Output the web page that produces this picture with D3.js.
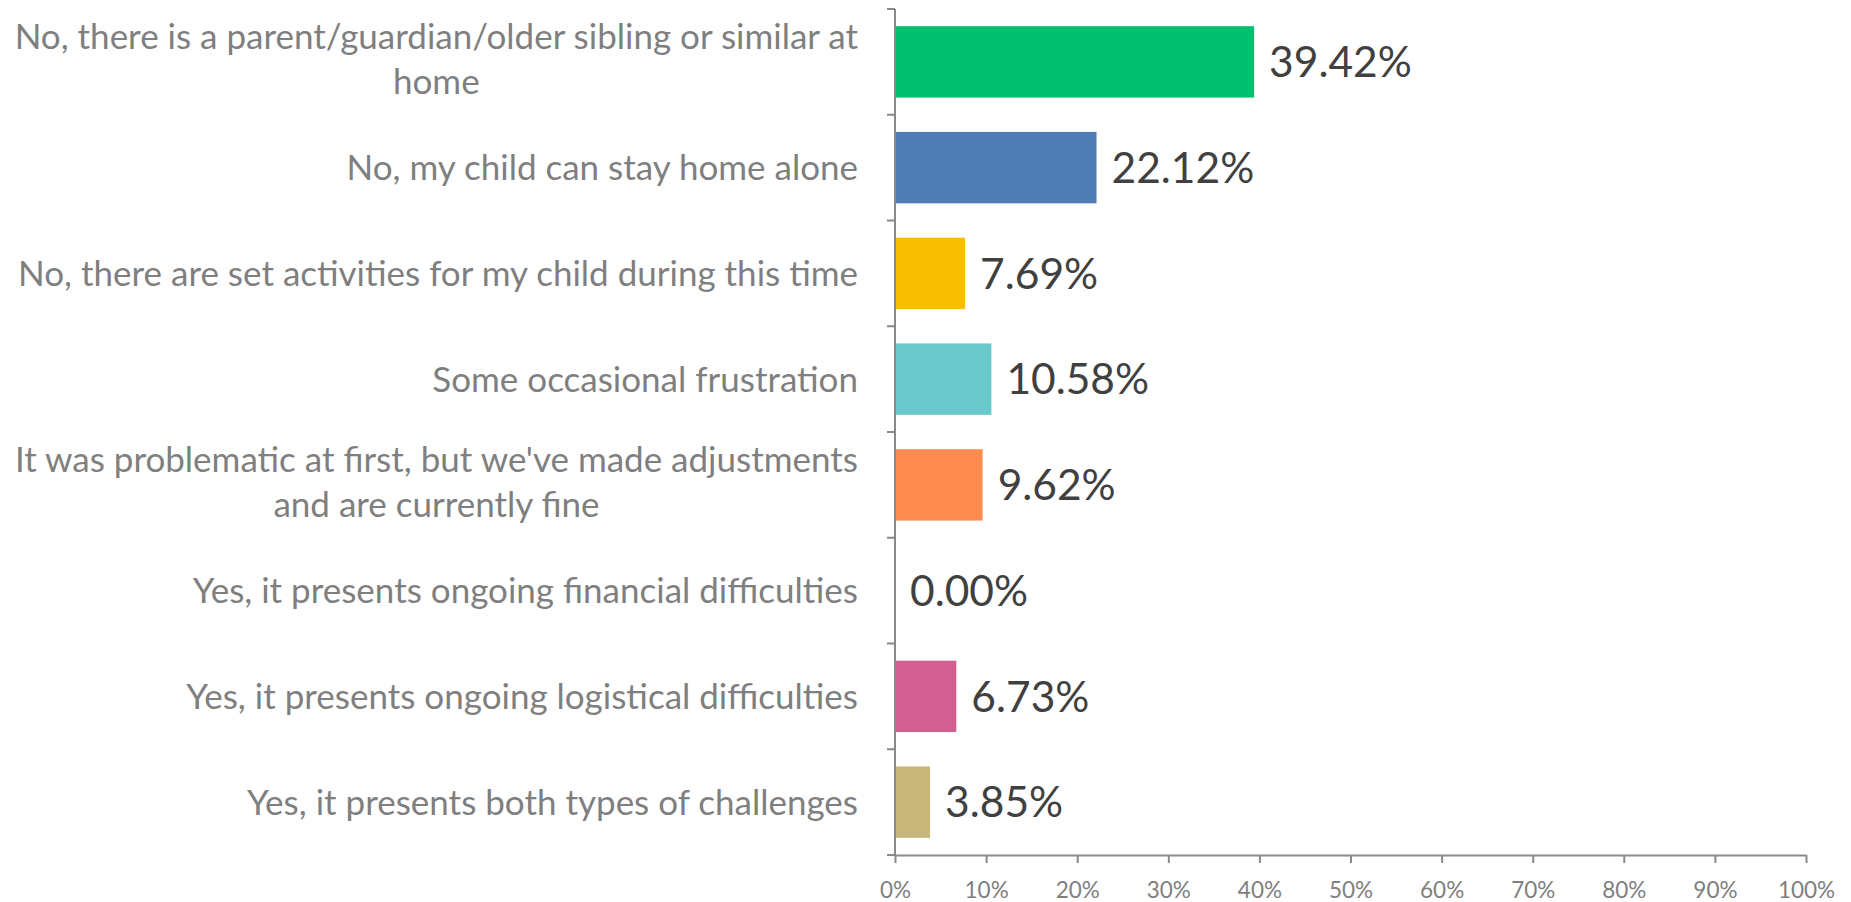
<!DOCTYPE html>
<html>
<head>
<meta charset="utf-8">
<script src="https://cdn.jsdelivr.net/npm/d3@7"></script>
<style>
  html, body { margin: 0; padding: 0; background: #fff; }
  svg { display: block; }
</style>
</head>
<body>
<svg id="chart" width="1851" height="902"></svg>
<script>
const categories = [
  ["No, there is a parent/guardian/older sibling or similar at", "home"],
  ["No, my child can stay home alone"],
  ["No, there are set activities for my child during this time"],
  ["Some occasional frustration"],
  ["It was problematic at first, but we've made adjustments", "and are currently fine"],
  ["Yes, it presents ongoing financial difficulties"],
  ["Yes, it presents ongoing logistical difficulties"],
  ["Yes, it presents both types of challenges"]
];
const values = [39.42, 22.12, 7.69, 10.58, 9.62, 0.00, 6.73, 3.85];
const colors = ["#00BF6F", "#507CB6", "#F9BE00", "#6BC8CD", "#FF8B4F", "#D25F90", "#D25F90", "#C7B879"];
const tickValues = [0, 10, 20, 30, 40, 50, 60, 70, 80, 90, 100];

const svg = d3.select("#chart");
const margin = { left: 895, right: 45, top: 9, bottom: 47 };
const W = 1851, H = 902;

const x = d3.scaleLinear().domain([0, 100]).range([margin.left, W - margin.right]);
const y = d3.scaleBand().domain(d3.range(categories.length))
  .range([margin.top, H - margin.bottom]).paddingInner(0.325).paddingOuter(0.1625);

const font = "Lato, 'Open Sans', sans-serif";
const axisColor = "#898989";
const catSize = 35;

// bars
svg.append("g").selectAll("rect").data(values).join("rect")
  .attr("x", x(0))
  .attr("y", (d, i) => y(i))
  .attr("width", d => x(d) - x(0))
  .attr("height", y.bandwidth())
  .attr("fill", (d, i) => colors[i]);

// data labels
svg.append("g").selectAll("text").data(values).join("text")
  .attr("x", d => x(d) + 15)
  .attr("y", (d, i) => y(i) + y.bandwidth() / 2)
  .attr("dy", "0.36em")
  .attr("font-family", font)
  .attr("font-size", 42.5)
  .attr("fill", "#404040")
  .text(d => d.toFixed(2) + "%");

// x axis
const xAxis = d3.axisBottom(x).tickValues(tickValues).tickFormat(d => d + "%").tickSizeInner(8).tickSizeOuter(0);
const gx = svg.append("g").attr("transform", `translate(0,${H - margin.bottom})`).call(xAxis);
gx.select(".domain").attr("stroke", axisColor).attr("stroke-width", 2);
gx.selectAll(".tick line").attr("stroke", axisColor).attr("stroke-width", 2);
gx.selectAll(".tick text").attr("font-family", font).attr("font-size", 22.5).attr("fill", "#7f7f7f")
  .attr("y", 43).attr("dy", 0);

// y axis line & ticks at band boundaries
const boundaries = d3.range(categories.length + 1).map(i => margin.top + i * (H - margin.bottom - margin.top) / categories.length);
svg.append("line").attr("x1", x(0)).attr("x2", x(0)).attr("y1", margin.top).attr("y2", H - margin.bottom)
  .attr("stroke", axisColor).attr("stroke-width", 2);
svg.append("g").selectAll("line").data(boundaries).join("line")
  .attr("x1", x(0) - 8).attr("x2", x(0))
  .attr("y1", d => d).attr("y2", d => d)
  .attr("stroke", axisColor).attr("stroke-width", 2);

// category labels
const labelG = svg.append("g");
categories.forEach((lines, i) => {
  const cy = y(i) + y.bandwidth() / 2;
  const lh = 45;
  const t = labelG.append("text")
    .attr("font-family", font).attr("font-size", catSize).attr("fill", "#7f7f7f");
  if (lines.length === 1) {
    t.attr("x", 858).attr("y", cy).attr("dy", "0.36em").attr("text-anchor", "end").text(lines[0]);
  } else {
    const tmp = labelG.append("text").attr("font-family", font).attr("font-size", catSize).text(lines[0]);
    const w = tmp.node().getComputedTextLength();
    tmp.remove();
    const cx = 858 - w / 2;
    lines.forEach((ln, k) => {
      t.append("tspan").attr("x", cx).attr("y", cy - 3 + (k - (lines.length - 1) / 2) * lh)
        .attr("dy", "0.36em").attr("text-anchor", "middle").text(ln);
    });
  }
});
</script>
</body>
</html>
